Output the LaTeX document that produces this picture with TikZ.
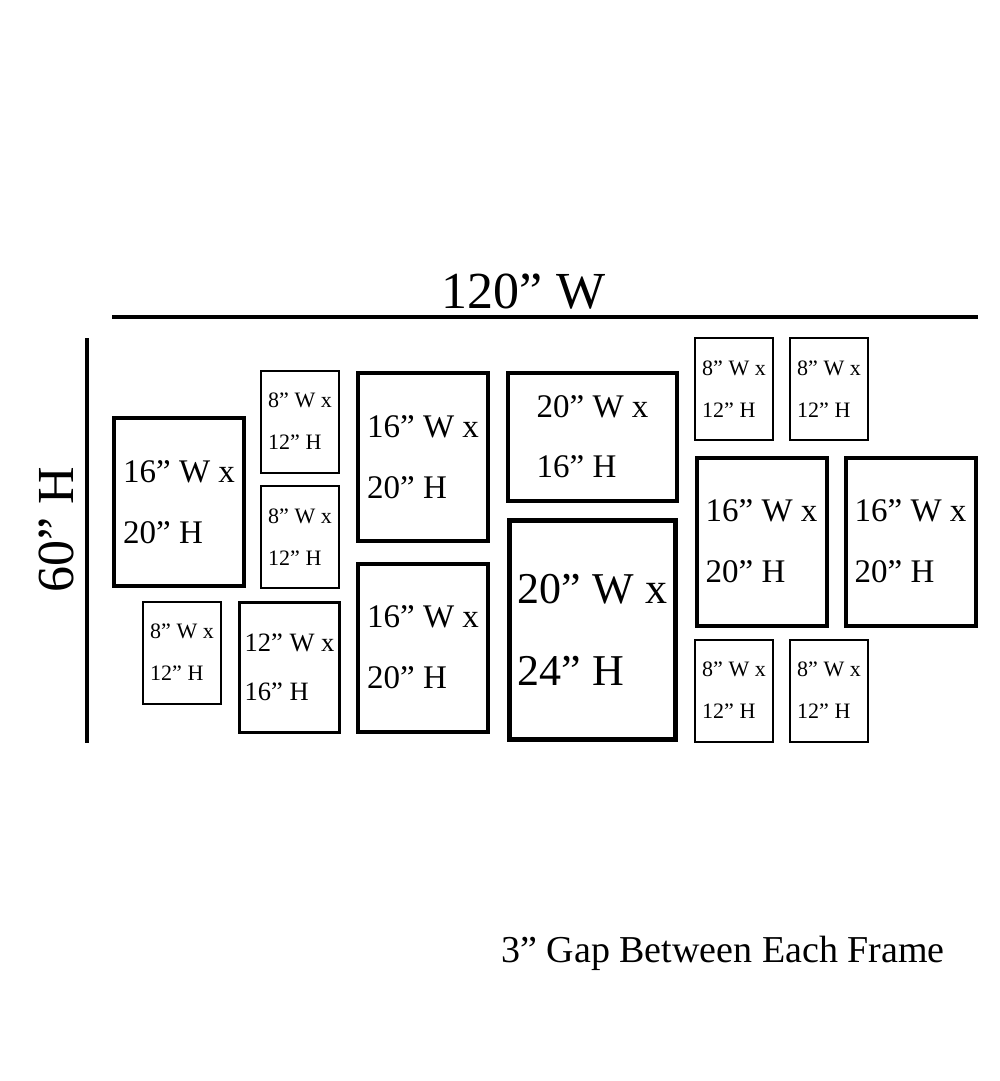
\documentclass[tikz,border=0pt]{standalone}
\usepackage{fontspec}
\setmainfont{Liberation Serif}
\usepackage{tikz}
\usetikzlibrary{positioning}
\tikzset{>=latex}

\begin{document}
\begin{tikzpicture}[x=0.5pt, y=-0.5pt]
    % Define frame styles
    \tikzstyle{smallfrm} = [rectangle, draw, line width=1pt, minimum width=39pt, minimum height=51pt, inner sep=0pt, align=left, font=\fontsize{11pt}{21pt}\selectfont]
    \tikzstyle{midfrm} = [rectangle, draw, line width=1.5pt, minimum width=50pt, minimum height=65pt, inner sep=0pt, align=left, font=\fontsize{13.25pt}{24.5pt}\selectfont]
    \tikzstyle{bigfrm} = [rectangle, draw, line width=2pt, minimum width=65pt, minimum height=84pt, inner sep=0pt, align=left, font=\fontsize{16.5pt}{30.5pt}\selectfont]
    \tikzstyle{widefrm} = [rectangle, draw, line width=2pt, minimum width=84.5pt, minimum height=64pt, inner sep=0pt, align=left, font=\fontsize{16.5pt}{30pt}\selectfont]
    \tikzstyle{hugefrm} = [rectangle, draw, line width=2.5pt, minimum width=83pt, minimum height=109.5pt, inner sep=0pt, align=left, font=\fontsize{22pt}{41pt}\selectfont]
    \tikzstyle{dimline} = [line width=2pt]

    \useasboundingbox (0,0) rectangle (1000,1081);

    % Dimension lines
    \coordinate (wl) at (112,316.5);
    \coordinate (wr) at (978,316.5);
    \coordinate (ht) at (87,338);
    \coordinate (hb) at (87,743);
    \draw[dimline] (wl) -- (wr);
    \draw[dimline] (ht) -- (hb);
    \node[anchor=base, font=\fontsize{26pt}{30pt}\selectfont, inner sep=0pt] (width) at (523.5,308) {120” W};
    \node[anchor=base, rotate=90, font=\fontsize{26pt}{30pt}\selectfont, inner sep=0pt] (height) at (73,529.5) {60” H};

    % Left column
    \node[bigfrm] (a1) at (179,502) {16” W x\\20” H};
    \node[smallfrm] (a2) at (182,652.5) {8” W x\\12” H};

    % Second column
    \node[smallfrm] (b1) at (300,421.5) {8” W x\\12” H};
    \node[smallfrm] (b2) at (300,537) {8” W x\\12” H};
    \node[midfrm] (b3) at (289.5,667.5) {12” W x\\16” H};

    % Third column
    \node[bigfrm] (c1) at (423,457) {16” W x\\20” H};
    \node[bigfrm] (c2) at (423,647.5) {16” W x\\20” H};

    % Centre column
    \node[widefrm] (d1) at (592.5,437) {20” W x\\16” H};
    \node[hugefrm] (d2) at (592.5,630) {20” W x\\24” H};

    % Right block
    \node[smallfrm] (e1) at (734,389) {8” W x\\12” H};
    \node[smallfrm] (e2) at (829,389) {8” W x\\12” H};
    \node[bigfrm] (e3) at (761.5,541.5) {16” W x\\20” H};
    \node[bigfrm] (e4) at (910.5,541.5) {16” W x\\20” H};
    \node[smallfrm] (e5) at (734,690.5) {8” W x\\12” H};
    \node[smallfrm] (e6) at (829,690.5) {8” W x\\12” H};

    % Note
    \node[anchor=base west, font=\fontsize{19pt}{22pt}\selectfont, inner sep=0pt] (note) at (501,962) {3” Gap Between Each Frame};

\end{tikzpicture}
\end{document}
